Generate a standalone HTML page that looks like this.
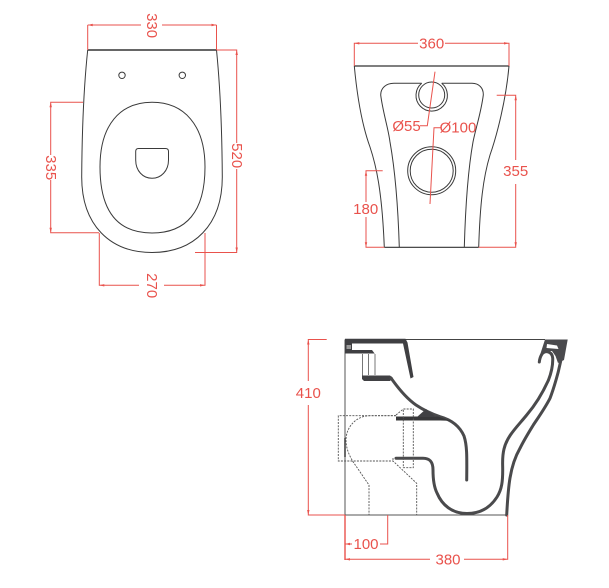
<!DOCTYPE html>
<html><head><meta charset="utf-8"><style>
html,body{margin:0;padding:0;background:#fff;width:609px;height:588px;overflow:hidden}
svg{display:block}
text{font-family:"Liberation Sans",sans-serif;font-size:15px;fill:#e9524c;text-anchor:middle;dominant-baseline:central}
.o{fill:none;stroke:#3a3a3a;stroke-width:1}
.r{fill:none;stroke:#e9524c;stroke-width:1}
.d{fill:none;stroke:#555;stroke-width:.9;stroke-dasharray:2 1.2}
.t{fill:none;stroke:#4a4a4c;stroke-linecap:round;stroke-linejoin:round}
</style></head><body>
<svg width="609" height="588" viewBox="0 0 609 588" xmlns="http://www.w3.org/2000/svg">
<!-- top view -->
<path class="o" d="M87.7 50 C84 85 82 130 81.7 177 C81.7 225 110 252.5 152 252.5 C194 252.5 222.3 225 222.3 177 C222 130 220 85 216.5 50"/>
<path d="M87.7 50H216.5" fill="none" stroke="#333" stroke-width="1.4"/>
<path class="o" d="M152 102.3 C120 102.3 100 125 100 167 C100 212 118 233 152 233 C186 233 205 212 205 167 C205 125 184 102.3 152 102.3Z"/>
<path class="o" d="M138.5 148.5 H165.5 Q168.5 148.5 168.5 151.5 V160 C168.5 171 161 178.3 152 178.3 C143 178.3 135.7 171 135.7 160 V151.5 Q135.7 148.5 138.5 148.5Z"/>
<circle class="o" cx="122" cy="75.3" r="3.2"/><circle class="o" cx="182.3" cy="75.3" r="3.2"/>
<path class="r" d="M87.7 25V50M216.5 25V50M87.7 25H141M162 25H216.5"/>
<path class="r" d="M216.5 50H236.7V143M236.7 169V252.5H195"/>
<path class="r" d="M83 102.3H50.7V155M50.7 180V232.7H99"/>
<path class="r" d="M99.3 233V285.3H139M164 285.3H205V233"/>
<path d="M87.7 25l5-1.2v2.4zM216.5 25l-5-1.2v2.4zM99.3 285.3l5-1.2v2.4zM205 285.3l-5-1.2v2.4zM236.7 50l-1.2 5h2.4zM236.7 252.5l-1.2-5h2.4zM50.7 102.3l-1.2 5h2.4zM50.7 232.7l-1.2-5h2.4z" fill="#e9524c"/>
<text transform="translate(151.7 25.6) rotate(90)">330</text>
<text transform="translate(236.7 155.7) rotate(90)">520</text>
<text transform="translate(50.7 167.7) rotate(90)">335</text>
<text transform="translate(151.7 285.7) rotate(90)">270</text>
<!-- side view -->
<path d="M354.3 66H509M384.3 247.3H478.7" fill="none" stroke="#333" stroke-width="1.2"/>
<path class="o" d="M354.3 66 C357 95 362 125 370 147 C376 165 382 190 384.3 247.3"/>
<path class="o" d="M509 66 C506 100 497 135 490 155 C483 178 480 205 478.7 247.3"/>
<path class="o" d="M421.7 83.3H394 C386 83.3 380.7 88 380.7 95 C383 113 388 127 390 142 C395 170 398 205 399.3 247.3"/>
<path class="o" d="M441.7 83.3H472 C479 83.3 483.5 88 483.3 95 C481 113 476 127 473 142 C468 170 465.5 205 464.3 247.3"/>
<path class="o" d="M421.7 83.3 A15.7 15.7 0 1 0 441.7 83.3"/>
<circle class="o" cx="431.7" cy="95" r="13"/>
<circle class="o" cx="431.7" cy="170.7" r="24"/><circle class="o" cx="431.7" cy="170.7" r="21.5"/>
<path class="r" d="M354.3 66V43.3H418M445 43.3H509V66"/>
<path class="r" d="M435 71.7 L427.3 125.7H420"/>
<path class="r" d="M430 204 L434 127.7H441"/>
<path class="r" d="M382.7 170.7H366V202M366 217V247.3H384.3"/>
<path class="r" d="M496.7 95.3H515.7V160M515.7 184V247.3H478.7"/>
<path d="M354.3 43.3l5-1.2v2.4zM509 43.3l-5-1.2v2.4zM366 170.7l-1.2 5h2.4zM366 247.3l-1.2-5h2.4zM515.7 95.3l-1.2 5h2.4zM515.7 247.3l-1.2-5h2.4z" fill="#e9524c"/>
<text x="431.7" y="44">360</text>
<text x="406.5" y="126.5">Ø55</text>
<text x="458" y="128">Ø100</text>
<text x="365.7" y="209.5">180</text>
<text x="515.7" y="171.7">355</text>
<!-- section view -->
<path d="M345 339.5V515H507" fill="none" stroke="#555" stroke-width="1"/>
<path d="M405 339.5H545" fill="none" stroke="#444" stroke-width="1"/>
<path d="M345 338.8H405.5L407.5 342.5 413.5 377 410.5 378.5 403 343.5H352V350H372L375 354V353.5H345Z" fill="#3f3f42"/>
<path d="M346.5 345H351V349H346.5Z" fill="#999"/>
<path d="M362.5 354V376M368.5 354V375M375 354V375" fill="none" stroke="#777" stroke-width="1"/>
<path d="M362 375.5H390 L393 378 L390 381 H364 L362 379Z" fill="#414144"/>
<path class="t" stroke-width="3" d="M391 378 C398 388 406 398 416 405 C425 411 432 414 440 416.7 C452 420 460 427 464 436 C467 445 467 455 466.7 480"/>
<path d="M396 416.5H438 L452 421 C447 420.5 442 420.5 436 420.5H396Z" fill="#38383a"/>
<path d="M417 417L426 409 436 417Z" fill="#414144"/>
<path class="t" stroke-width="3" d="M396 458.3H423 C430 458.3 433 462 433 470 C433 480 434 487 437 493 C442 505 452 513.5 467 513.5 C480 513.5 490 508 497 497 C502 489 502.7 481 502.7 470 C502.7 462 502 457 504 449 C507 436 517 427 526.7 415 C537 403 544 390 548.5 380 C552 371 553 365 552.7 358 C552 351 545 350 542 354 C540 357 539.5 360 539.3 362"/>
<path class="t" stroke-width="3" d="M506.7 515 C507.5 500 508 490 510 478 C512 466 515 457 520 448.3 C524 440 529 432 533.3 425 C540 415 545 408 550 398.3 C554 388 556 380 558.3 371.7 L560.7 361"/>
<path d="M545 339.5H567.7L564 360 558 363 555.5 356 552 351 544 351 540 355Z" fill="#4a4a4d"/>
<path d="M547 344L557 345.5 558.5 349 546.5 348Z" fill="#fff"/>
<path class="d" d="M396 415.7H338.3V461H393L416.7 483.3V515"/>
<path class="d" d="M396 415.7H370 C355 416 346 428 346 440 C346 448 349 455 353 461.7 L369 485V515"/>
<path class="d" d="M396 415 L403.3 409H413.3V467.7H403.3V409M393 458V461"/>
<path d="M345 438V457" stroke="#444" stroke-width="1.6" fill="none"/>
<path class="r" d="M326.7 339.5H308.3V381M308.3 405V515H345M345 515V559.3H430M464 559.3H507.7V515"/>
<path class="r" d="M345 544H352M380 544H387.7V515"/>
<path d="M308.3 339.5l-1.2 5h2.4zM308.3 515l-1.2-5h2.4zM345 559.3l5-1.2v2.4zM507.7 559.3l-5-1.2v2.4zM345 544l5-1.2v2.4z" fill="#e9524c"/>
<path d="M345 515V560" stroke="#e9524c" stroke-width="1.4" fill="none"/>
<text x="308.3" y="393.3">410</text>
<text x="366" y="544.3">100</text>
<text x="448" y="560">380</text>
</svg>
</body></html>
